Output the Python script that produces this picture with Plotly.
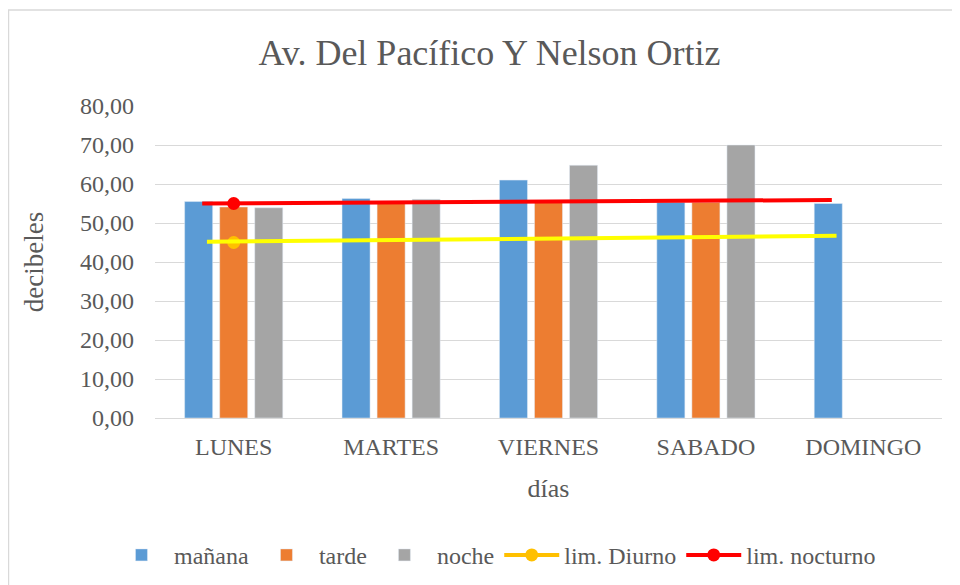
import plotly.graph_objects as go

dias = ["LUNES", "MARTES", "VIERNES", "SABADO", "DOMINGO"]
manana = [55.5, 56.3, 61.0, 55.3, 55.0]
tarde = [54.1, 55.3, 55.3, 55.3, None]
noche = [53.9, 56.1, 64.8, 70.0, None]
lim_diurno = [45.0, None, None, None, None]
lim_nocturno = [55.0, None, None, None, None]
tend_diurno = [45.2, 45.55, 45.9, 46.3, 46.7]
tend_nocturno = [55.0, 55.2, 55.45, 55.7, 55.9]
y_ticks = [0, 10, 20, 30, 40, 50, 60, 70, 80]

FONT = "Liberation Serif"
GREY = "#595959"

fig = go.Figure()
fig.add_trace(go.Bar(name="mañana", x=dias, y=manana, marker_color="#5B9BD5"))
fig.add_trace(go.Bar(name="tarde", x=dias, y=tarde, marker_color="#ED7D31"))
fig.add_trace(go.Bar(name="noche", x=dias, y=noche, marker_color="#A5A5A5"))
fig.add_trace(go.Scatter(name="lim. Diurno", x=dias, y=lim_diurno, mode="lines+markers",
                         line=dict(color="#FFC000", width=4), marker=dict(color="#FFC000", size=13)))
fig.add_trace(go.Scatter(name="lim. nocturno", x=dias, y=lim_nocturno, mode="lines+markers",
                         line=dict(color="#FF0000", width=4), marker=dict(color="#FF0000", size=13)))
# trend lines (drawn on shifted overlay axes, as in the original)
fig.add_trace(go.Scatter(x=dias, y=tend_diurno, mode="lines", xaxis="x3", showlegend=False,
                         line=dict(color="#FFFF00", width=4), hoverinfo="skip"))
fig.add_trace(go.Scatter(x=dias, y=tend_nocturno, mode="lines", xaxis="x2", showlegend=False,
                         line=dict(color="#FF0000", width=4), hoverinfo="skip"))

fig.update_layout(
    width=960, height=585,
    margin=dict(l=147, r=26, t=98, b=175),
    paper_bgcolor="white", plot_bgcolor="white",
    font=dict(family=FONT, color=GREY, size=22),
    separators=",.",
    barmode="group", bargap=0.332, bargroupgap=0.2,
    title=dict(text="Av. Del Pacífico Y Nelson Ortiz", x=481.5 / 960, xref="container", xanchor="center",
               y=1 - 44 / 585, yref="container", yanchor="middle",
               font=dict(family=FONT, size=36, color=GREY)),
    xaxis=dict(type="category", categoryorder="array", categoryarray=dias, range=[-0.5, 4.5],
               showgrid=False, showline=False, ticks="", ticklabelstandoff=12,
               tickfont=dict(family=FONT, size=24, color=GREY),
               title=dict(text="días", font=dict(family=FONT, size=26, color=GREY), standoff=19)),
    xaxis2=dict(type="category", categoryorder="array", categoryarray=dias, overlaying="x",
                range=[-0.3, 4.7], visible=False),
    xaxis3=dict(type="category", categoryorder="array", categoryarray=dias, overlaying="x",
                range=[-0.33, 4.67], visible=False),
    yaxis=dict(range=[0, 80], tickvals=y_ticks, tickformat=".2f", showgrid=True, gridcolor="#D9D9D9",
               gridwidth=1, zeroline=True, zerolinecolor="#D9D9D9", zerolinewidth=1, showline=False,
               ticks="", ticklabelstandoff=20,
               tickfont=dict(family=FONT, size=24, color=GREY),
               title=dict(text="decibeles", font=dict(family=FONT, size=27, color=GREY), standoff=28)),
    legend=dict(orientation="h", x=0.432, xanchor="center", y=-0.44, yanchor="middle",
                font=dict(family=FONT, size=24, color=GREY), traceorder="normal",
                itemwidth=55),
    showlegend=True,
)

fig.add_shape(type="rect", xref="paper", yref="paper", x0=-0.1862, x1=1.05, y0=-0.6, y1=1.3077,
              line=dict(color="#D9D9D9", width=1.5), fillcolor="rgba(0,0,0,0)", layer="below")

fig.write_html("out.html")
